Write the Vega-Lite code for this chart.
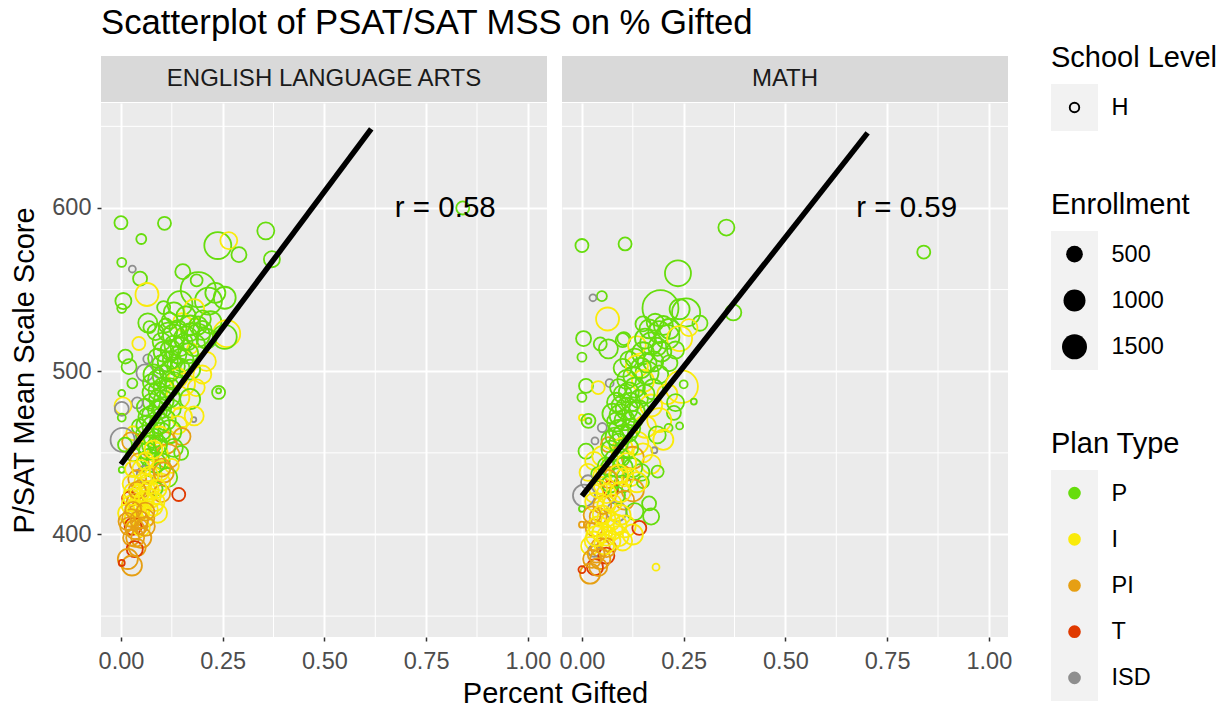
{"$schema":"https://vega.github.io/schema/vega-lite/v6.json","padding":{"left":10,"top":6,"right":0,"bottom":2},"background":"white","config":{"font":"Liberation Sans","view":{"stroke":null},"axis":{"labelFont":"Liberation Sans","titleFont":"Liberation Sans","titleFontWeight":"normal"}},
"datasets":{
"minorX":[{"v":0.125},{"v":0.375},{"v":0.625},{"v":0.875}],
"minorY":[{"v":350},{"v":450},{"v":550},{"v":650}],
"ela":[
{"x":0.0,"y":591,"e":290,"p":"P"},{"x":0.107,"y":590.6,"e":290,"p":"P"},{"x":0.05,"y":581,"e":155,"p":"P"},{"x":0.238,"y":577,"e":1800,"p":"P"},{"x":0.265,"y":580,"e":530,"p":"I"},{"x":0.29,"y":571.4,"e":400,"p":"P"},{"x":0.356,"y":586,"e":530,"p":"P"},{"x":0.371,"y":568.6,"e":460,"p":"P"},{"x":0.002,"y":566.7,"e":120,"p":"P"},{"x":0.028,"y":562.6,"e":55,"p":"ISD"},{"x":0.047,"y":556.7,"e":340,"p":"P"},{"x":0.152,"y":561,"e":400,"p":"P"},{"x":0.186,"y":555.7,"e":240,"p":"P"},{"x":0.84,"y":600,"e":290,"p":"P"},{"x":0.064,"y":547,"e":1160,"p":"I"},{"x":0.006,"y":543,"e":460,"p":"P"},{"x":0.002,"y":538.5,"e":120,"p":"P"},{"x":0.145,"y":541.4,"e":1500,"p":"P"},{"x":0.105,"y":539,"e":290,"p":"P"},{"x":0.19,"y":550,"e":3300,"p":"P"},{"x":0.232,"y":548,"e":800,"p":"P"},{"x":0.255,"y":545,"e":1000,"p":"P"},{"x":0.215,"y":543,"e":1800,"p":"P"},{"x":0.18,"y":538,"e":800,"p":"I"},{"x":0.066,"y":529.6,"e":700,"p":"P"},{"x":0.07,"y":527,"e":240,"p":"P"},{"x":0.11,"y":528,"e":340,"p":"P"},{"x":0.15,"y":530,"e":610,"p":"I"},{"x":0.2,"y":532,"e":530,"p":"P"},{"x":0.17,"y":528,"e":800,"p":"P"},{"x":0.22,"y":530,"e":1000,"p":"P"},{"x":0.26,"y":523,"e":1800,"p":"I"},{"x":0.255,"y":521,"e":1330,"p":"P"},{"x":0.13,"y":522,"e":1000,"p":"P"},{"x":0.085,"y":524,"e":460,"p":"P"},{"x":0.16,"y":520,"e":1330,"p":"P"},{"x":0.19,"y":522,"e":1160,"p":"P"},{"x":0.21,"y":520,"e":800,"p":"P"},{"x":0.1,"y":518,"e":610,"p":"P"},{"x":0.044,"y":517,"e":290,"p":"I"},{"x":0.145,"y":515,"e":700,"p":"P"},{"x":0.175,"y":514,"e":155,"p":"I"},{"x":0.18,"y":516,"e":1000,"p":"P"},{"x":0.122,"y":513,"e":800,"p":"P"},{"x":0.011,"y":509,"e":340,"p":"P"},{"x":0.066,"y":507.5,"e":120,"p":"ISD"},{"x":0.09,"y":508,"e":700,"p":"P"},{"x":0.15,"y":507,"e":1160,"p":"P"},{"x":0.115,"y":506,"e":800,"p":"P"},{"x":0.21,"y":506,"e":700,"p":"I"},{"x":0.02,"y":502.8,"e":400,"p":"P"},{"x":0.135,"y":503,"e":610,"p":"P"},{"x":0.17,"y":501,"e":800,"p":"P"},{"x":0.059,"y":499,"e":530,"p":"ISD"},{"x":0.093,"y":499,"e":155,"p":"ISD"},{"x":0.08,"y":498,"e":800,"p":"P"},{"x":0.105,"y":497,"e":1000,"p":"P"},{"x":0.14,"y":496,"e":700,"p":"I"},{"x":0.2,"y":498,"e":610,"p":"I"},{"x":0.075,"y":493,"e":530,"p":"P"},{"x":0.028,"y":492.6,"e":155,"p":"P"},{"x":0.155,"y":492,"e":1000,"p":"I"},{"x":0.12,"y":490,"e":700,"p":"P"},{"x":0.185,"y":490,"e":530,"p":"I"},{"x":0.09,"y":488,"e":610,"p":"P"},{"x":0.24,"y":487,"e":290,"p":"P"},{"x":0.24,"y":488,"e":10,"p":"P"},{"x":0.002,"y":486.5,"e":55,"p":"P"},{"x":0.14,"y":484,"e":1160,"p":"I"},{"x":0.17,"y":483,"e":800,"p":"P"},{"x":0.105,"y":482,"e":800,"p":"P"},{"x":0.075,"y":481,"e":530,"p":"P"},{"x":0.04,"y":480.6,"e":195,"p":"ISD"},{"x":0.005,"y":478.8,"e":530,"p":"I"},{"x":0.002,"y":477,"e":340,"p":"ISD"},{"x":0.125,"y":477,"e":610,"p":"P"},{"x":0.09,"y":476,"e":700,"p":"P"},{"x":0.18,"y":472.6,"e":700,"p":"I"},{"x":0.179,"y":470.4,"e":10,"p":"ISD"},{"x":0.15,"y":472,"e":800,"p":"I"},{"x":0.002,"y":471.6,"e":85,"p":"P"},{"x":0.065,"y":472,"e":610,"p":"P"},{"x":0.11,"y":470,"e":800,"p":"P"},{"x":0.14,"y":467,"e":610,"p":"I"},{"x":0.08,"y":466,"e":1000,"p":"P"},{"x":0.045,"y":466,"e":400,"p":"P"},{"x":0.12,"y":463,"e":1160,"p":"P"},{"x":0.03,"y":462,"e":340,"p":"I"},{"x":0.06,"y":461,"e":700,"p":"P"},{"x":0.095,"y":460,"e":800,"p":"I"},{"x":0.15,"y":460,"e":530,"p":"PI"},{"x":0.004,"y":457.9,"e":1330,"p":"ISD"},{"x":0.025,"y":457,"e":610,"p":"PI"},{"x":0.11,"y":456,"e":1000,"p":"PI"},{"x":0.075,"y":455,"e":700,"p":"P"},{"x":0.01,"y":455,"e":340,"p":"P"},{"x":0.13,"y":453,"e":610,"p":"P"},{"x":0.05,"y":452,"e":530,"p":"I"},{"x":0.09,"y":450,"e":800,"p":"I"},{"x":0.148,"y":450,"e":340,"p":"P"},{"x":0.03,"y":449,"e":340,"p":"P"},{"x":0.115,"y":448,"e":1330,"p":"PI"},{"x":0.07,"y":447,"e":610,"p":"P"},{"x":0.1,"y":445,"e":460,"p":"P"},{"x":0.045,"y":444,"e":700,"p":"PI"},{"x":0.002,"y":439.6,"e":30,"p":"P"},{"x":0.075,"y":441,"e":610,"p":"P"},{"x":0.125,"y":442,"e":340,"p":"I"},{"x":0.03,"y":440,"e":460,"p":"I"},{"x":0.095,"y":439,"e":800,"p":"I"},{"x":0.06,"y":437,"e":530,"p":"ISD"},{"x":0.115,"y":435,"e":700,"p":"P"},{"x":0.08,"y":436,"e":530,"p":"I"},{"x":0.04,"y":434,"e":610,"p":"PI"},{"x":0.1,"y":432,"e":530,"p":"I"},{"x":0.065,"y":431,"e":700,"p":"I"},{"x":0.025,"y":431,"e":530,"p":"I"},{"x":0.085,"y":428,"e":340,"p":"P"},{"x":0.05,"y":428,"e":610,"p":"PI"},{"x":0.142,"y":424.5,"e":290,"p":"T"},{"x":0.1,"y":425,"e":530,"p":"PI"},{"x":0.03,"y":426,"e":610,"p":"I"},{"x":0.02,"y":422,"e":340,"p":"T"},{"x":0.075,"y":422,"e":610,"p":"I"},{"x":0.06,"y":420,"e":460,"p":"I"},{"x":0.035,"y":420,"e":530,"p":"PI"},{"x":0.025,"y":418,"e":700,"p":"I"},{"x":0.05,"y":415,"e":530,"p":"I"},{"x":0.07,"y":415,"e":530,"p":"I"},{"x":0.09,"y":413,"e":700,"p":"I"},{"x":0.015,"y":413,"e":610,"p":"I"},{"x":0.04,"y":413,"e":610,"p":"PI"},{"x":0.03,"y":410,"e":530,"p":"I"},{"x":0.06,"y":410,"e":610,"p":"PI"},{"x":0.02,"y":405,"e":610,"p":"PI"},{"x":0.045,"y":405,"e":460,"p":"PI"},{"x":0.03,"y":405,"e":530,"p":"T"},{"x":0.035,"y":403,"e":700,"p":"PI"},{"x":0.05,"y":404,"e":530,"p":"I"},{"x":0.05,"y":398,"e":800,"p":"PI"},{"x":0.025,"y":398,"e":460,"p":"PI"},{"x":0.04,"y":392,"e":530,"p":"PI"},{"x":0.034,"y":391,"e":460,"p":"T"},{"x":0.017,"y":385,"e":800,"p":"PI"},{"x":0.027,"y":381,"e":800,"p":"PI"},{"x":0.002,"y":382.6,"e":30,"p":"T"},
{"x":0.13,"y":536,"e":800,"p":"P"},{"x":0.16,"y":534,"e":700,"p":"P"},{"x":0.12,"y":531,"e":460,"p":"P"},{"x":0.19,"y":528,"e":610,"p":"P"},{"x":0.14,"y":526,"e":530,"p":"P"},{"x":0.17,"y":524,"e":610,"p":"P"},{"x":0.115,"y":524,"e":700,"p":"P"},{"x":0.2,"y":525,"e":700,"p":"P"},{"x":0.155,"y":518,"e":530,"p":"P"},{"x":0.13,"y":516,"e":700,"p":"P"},{"x":0.105,"y":512,"e":800,"p":"P"},{"x":0.165,"y":511,"e":800,"p":"P"},{"x":0.14,"y":510,"e":530,"p":"P"},{"x":0.125,"y":507,"e":610,"p":"P"},{"x":0.1,"y":504,"e":700,"p":"P"},{"x":0.145,"y":502,"e":700,"p":"P"},{"x":0.12,"y":500,"e":800,"p":"P"},{"x":0.09,"y":495,"e":700,"p":"P"},{"x":0.13,"y":494,"e":610,"p":"P"},{"x":0.105,"y":490,"e":800,"p":"P"},{"x":0.075,"y":487,"e":610,"p":"P"},{"x":0.09,"y":483,"e":530,"p":"P"},{"x":0.12,"y":484,"e":800,"p":"P"},{"x":0.06,"y":478,"e":530,"p":"P"},{"x":0.1,"y":477,"e":700,"p":"P"},{"x":0.075,"y":473,"e":700,"p":"P"},{"x":0.095,"y":468,"e":800,"p":"P"},{"x":0.06,"y":467,"e":610,"p":"P"},{"x":0.1,"y":463,"e":610,"p":"P"},{"x":0.08,"y":459,"e":700,"p":"P"},{"x":0.06,"y":455,"e":610,"p":"P"},{"x":0.09,"y":455,"e":700,"p":"P"},{"x":0.065,"y":451,"e":530,"p":"P"},{"x":0.085,"y":444,"e":800,"p":"P"},{"x":0.1,"y":441,"e":610,"p":"PI"},{"x":0.05,"y":440,"e":610,"p":"I"},{"x":0.07,"y":436,"e":610,"p":"I"},{"x":0.045,"y":425,"e":610,"p":"I"},{"x":0.085,"y":420,"e":610,"p":"I"},{"x":0.065,"y":424,"e":530,"p":"I"},{"x":0.04,"y":418,"e":610,"p":"I"},{"x":0.025,"y":410,"e":610,"p":"PI"},{"x":0.035,"y":398,"e":610,"p":"PI"},
{"x":0.08,"y":452,"e":610,"p":"I"},{"x":0.06,"y":445,"e":530,"p":"I"},{"x":0.105,"y":438,"e":800,"p":"PI"},{"x":0.055,"y":432,"e":610,"p":"I"},{"x":0.09,"y":428,"e":610,"p":"I"},{"x":0.04,"y":427,"e":530,"p":"PI"},{"x":0.07,"y":427,"e":700,"p":"I"},{"x":0.025,"y":423,"e":460,"p":"I"},{"x":0.055,"y":421,"e":610,"p":"I"},{"x":0.08,"y":417,"e":610,"p":"I"},{"x":0.035,"y":416,"e":530,"p":"I"},{"x":0.06,"y":414,"e":610,"p":"PI"},{"x":0.03,"y":415,"e":460,"p":"PI"},{"x":0.045,"y":409,"e":610,"p":"PI"},{"x":0.015,"y":408,"e":530,"p":"PI"},{"x":0.06,"y":405,"e":700,"p":"PI"}
],
"math":[
{"x":0.355,"y":588,"e":460,"p":"P"},{"x":0.0,"y":577,"e":290,"p":"P"},{"x":0.106,"y":578,"e":290,"p":"P"},{"x":0.84,"y":573,"e":290,"p":"P"},{"x":0.236,"y":560,"e":1650,"p":"P"},{"x":0.049,"y":546,"e":155,"p":"P"},{"x":0.027,"y":545,"e":55,"p":"ISD"},{"x":0.193,"y":538.6,"e":3500,"p":"P"},{"x":0.24,"y":538,"e":800,"p":"P"},{"x":0.256,"y":536,"e":2000,"p":"P"},{"x":0.372,"y":536,"e":460,"p":"P"},{"x":0.063,"y":532,"e":1160,"p":"I"},{"x":0.15,"y":529,"e":400,"p":"P"},{"x":0.29,"y":529.4,"e":400,"p":"P"},{"x":0.263,"y":526.7,"e":530,"p":"I"},{"x":0.18,"y":530,"e":530,"p":"P"},{"x":0.2,"y":528,"e":700,"p":"P"},{"x":0.215,"y":526,"e":800,"p":"P"},{"x":0.19,"y":524,"e":1000,"p":"P"},{"x":0.21,"y":521,"e":1330,"p":"P"},{"x":0.24,"y":520,"e":1500,"p":"I"},{"x":0.103,"y":520,"e":290,"p":"P"},{"x":0.004,"y":520,"e":400,"p":"P"},{"x":0.1,"y":519,"e":340,"p":"P"},{"x":0.045,"y":516.7,"e":290,"p":"P"},{"x":0.065,"y":513.7,"e":700,"p":"P"},{"x":0.17,"y":517,"e":1000,"p":"P"},{"x":0.135,"y":516,"e":610,"p":"I"},{"x":0.23,"y":513,"e":530,"p":"P"},{"x":0.195,"y":512,"e":800,"p":"P"},{"x":0.15,"y":511,"e":1000,"p":"P"},{"x":0.0,"y":508.6,"e":120,"p":"P"},{"x":0.115,"y":507,"e":530,"p":"P"},{"x":0.175,"y":506,"e":800,"p":"P"},{"x":0.215,"y":505,"e":460,"p":"P"},{"x":0.135,"y":503,"e":1000,"p":"I"},{"x":0.1,"y":502,"e":610,"p":"P"},{"x":0.16,"y":499,"e":1160,"p":"P"},{"x":0.19,"y":498,"e":610,"p":"P"},{"x":0.125,"y":497,"e":700,"p":"P"},{"x":0.15,"y":494,"e":1000,"p":"I"},{"x":0.068,"y":492.7,"e":85,"p":"ISD"},{"x":0.25,"y":492,"e":85,"p":"P"},{"x":0.245,"y":490.6,"e":2800,"p":"I"},{"x":0.01,"y":491,"e":340,"p":"P"},{"x":0.04,"y":490,"e":290,"p":"I"},{"x":0.09,"y":490,"e":530,"p":"P"},{"x":0.175,"y":489,"e":800,"p":"P"},{"x":0.115,"y":487,"e":800,"p":"P"},{"x":0.21,"y":486,"e":800,"p":"I"},{"x":0.0,"y":484,"e":120,"p":"P"},{"x":0.14,"y":483,"e":610,"p":"P"},{"x":0.085,"y":481,"e":700,"p":"P"},{"x":0.275,"y":481.4,"e":30,"p":"P"},{"x":0.23,"y":480.8,"e":530,"p":"P"},{"x":0.17,"y":479,"e":1000,"p":"I"},{"x":0.11,"y":477,"e":1000,"p":"P"},{"x":0.14,"y":476,"e":800,"p":"P"},{"x":0.226,"y":474.5,"e":340,"p":"P"},{"x":0.075,"y":474,"e":800,"p":"P"},{"x":0.095,"y":473,"e":1000,"p":"P"},{"x":0.0,"y":471.6,"e":30,"p":"I"},{"x":0.19,"y":470,"e":1330,"p":"I"},{"x":0.125,"y":470,"e":700,"p":"P"},{"x":0.016,"y":469.6,"e":340,"p":"P"},{"x":0.016,"y":469.6,"e":30,"p":"P"},{"x":0.24,"y":466.5,"e":55,"p":"P"},{"x":0.155,"y":466,"e":1000,"p":"I"},{"x":0.05,"y":465.5,"e":120,"p":"ISD"},{"x":0.213,"y":465.3,"e":85,"p":"P"},{"x":0.09,"y":464,"e":800,"p":"P"},{"x":0.115,"y":462,"e":530,"p":"P"},{"x":0.185,"y":461,"e":530,"p":"P"},{"x":0.2,"y":458,"e":800,"p":"I"},{"x":0.032,"y":457.3,"e":55,"p":"ISD"},{"x":0.07,"y":458,"e":610,"p":"P"},{"x":0.135,"y":456,"e":1160,"p":"I"},{"x":0.065,"y":455,"e":400,"p":"PI"},{"x":0.1,"y":453,"e":800,"p":"I"},{"x":0.178,"y":451.6,"e":30,"p":"ISD"},{"x":0.01,"y":451,"e":400,"p":"P"},{"x":0.15,"y":450,"e":700,"p":"I"},{"x":0.05,"y":448,"e":800,"p":"I"},{"x":0.125,"y":447,"e":1000,"p":"PI"},{"x":0.08,"y":446,"e":700,"p":"P"},{"x":0.03,"y":445,"e":610,"p":"I"},{"x":0.17,"y":443,"e":700,"p":"I"},{"x":0.06,"y":442,"e":530,"p":"P"},{"x":0.1,"y":441,"e":800,"p":"P"},{"x":0.186,"y":438.5,"e":240,"p":"P"},{"x":0.145,"y":438,"e":530,"p":"P"},{"x":0.015,"y":438,"e":530,"p":"I"},{"x":0.04,"y":437,"e":340,"p":"P"},{"x":0.08,"y":436,"e":700,"p":"PI"},{"x":0.12,"y":435,"e":610,"p":"I"},{"x":0.015,"y":432,"e":340,"p":"ISD"},{"x":0.1,"y":431,"e":530,"p":"P"},{"x":0.15,"y":432,"e":240,"p":"P"},{"x":0.05,"y":430,"e":530,"p":"I"},{"x":0.07,"y":428,"e":400,"p":"T"},{"x":0.125,"y":427,"e":1000,"p":"PI"},{"x":0.03,"y":425,"e":610,"p":"I"},{"x":0.005,"y":423.8,"e":1000,"p":"ISD"},{"x":0.085,"y":424,"e":530,"p":"P"},{"x":0.105,"y":421,"e":700,"p":"PI"},{"x":0.165,"y":419,"e":340,"p":"P"},{"x":0.06,"y":418,"e":610,"p":"I"},{"x":0.0,"y":415.7,"e":30,"p":"P"},{"x":0.085,"y":414,"e":800,"p":"ISD"},{"x":0.13,"y":414,"e":530,"p":"P"},{"x":0.17,"y":411,"e":460,"p":"P"},{"x":0.04,"y":411,"e":530,"p":"PI"},{"x":0.07,"y":408,"e":700,"p":"I"},{"x":0.0,"y":406,"e":30,"p":"PI"},{"x":0.012,"y":406,"e":30,"p":"PI"},{"x":0.105,"y":405,"e":1000,"p":"I"},{"x":0.141,"y":404,"e":340,"p":"T"},{"x":0.03,"y":404,"e":530,"p":"PI"},{"x":0.05,"y":401,"e":800,"p":"I"},{"x":0.09,"y":399,"e":800,"p":"I"},{"x":0.125,"y":400,"e":800,"p":"I"},{"x":0.03,"y":396,"e":700,"p":"I"},{"x":0.07,"y":396,"e":800,"p":"I"},{"x":0.02,"y":393,"e":610,"p":"I"},{"x":0.045,"y":392,"e":700,"p":"PI"},{"x":0.03,"y":390,"e":240,"p":"ISD"},{"x":0.06,"y":387,"e":460,"p":"T"},{"x":0.045,"y":385,"e":800,"p":"PI"},{"x":0.182,"y":380,"e":55,"p":"I"},{"x":0.032,"y":380,"e":460,"p":"T"},{"x":0.02,"y":376,"e":800,"p":"PI"},{"x":0.0,"y":378.5,"e":55,"p":"T"},
{"x":0.165,"y":526,"e":700,"p":"P"},{"x":0.185,"y":515,"e":610,"p":"P"},{"x":0.155,"y":520,"e":800,"p":"P"},{"x":0.13,"y":508,"e":700,"p":"P"},{"x":0.16,"y":505,"e":700,"p":"P"},{"x":0.145,"y":502,"e":800,"p":"P"},{"x":0.11,"y":495,"e":700,"p":"P"},{"x":0.13,"y":490,"e":800,"p":"P"},{"x":0.1,"y":486,"e":610,"p":"P"},{"x":0.155,"y":486,"e":700,"p":"P"},{"x":0.12,"y":481,"e":700,"p":"P"},{"x":0.095,"y":479,"e":610,"p":"P"},{"x":0.13,"y":475,"e":800,"p":"P"},{"x":0.105,"y":470,"e":800,"p":"P"},{"x":0.085,"y":469,"e":700,"p":"P"},{"x":0.12,"y":465,"e":700,"p":"P"},{"x":0.1,"y":461,"e":800,"p":"P"},{"x":0.08,"y":460,"e":610,"p":"P"},{"x":0.09,"y":456,"e":700,"p":"P"},{"x":0.115,"y":453,"e":700,"p":"P"},{"x":0.07,"y":452,"e":610,"p":"P"},{"x":0.095,"y":447,"e":610,"p":"P"},{"x":0.07,"y":441,"e":700,"p":"P"},{"x":0.125,"y":441,"e":700,"p":"P"},{"x":0.105,"y":435,"e":610,"p":"I"},{"x":0.05,"y":436,"e":610,"p":"I"},{"x":0.07,"y":431,"e":530,"p":"P"},{"x":0.03,"y":420,"e":610,"p":"I"},{"x":0.05,"y":418,"e":610,"p":"PI"},{"x":0.075,"y":419,"e":610,"p":"I"},{"x":0.095,"y":412,"e":800,"p":"I"},{"x":0.06,"y":410,"e":610,"p":"I"},{"x":0.04,"y":405,"e":800,"p":"I"},{"x":0.075,"y":403,"e":800,"p":"I"},{"x":0.055,"y":394,"e":800,"p":"I"},{"x":0.035,"y":388,"e":530,"p":"PI"},{"x":0.06,"y":392,"e":700,"p":"PI"},
{"x":0.11,"y":444,"e":700,"p":"I"},{"x":0.09,"y":437,"e":700,"p":"I"},{"x":0.065,"y":434,"e":610,"p":"PI"},{"x":0.135,"y":432,"e":800,"p":"I"},{"x":0.04,"y":428,"e":610,"p":"I"},{"x":0.095,"y":426,"e":800,"p":"I"},{"x":0.06,"y":425,"e":700,"p":"I"},{"x":0.025,"y":412,"e":530,"p":"PI"},{"x":0.05,"y":412,"e":700,"p":"I"},{"x":0.085,"y":406,"e":800,"p":"I"},{"x":0.035,"y":399,"e":800,"p":"I"},{"x":0.06,"y":399,"e":700,"p":"I"},{"x":0.1,"y":396,"e":700,"p":"I"},{"x":0.025,"y":385,"e":610,"p":"PI"},{"x":0.04,"y":380,"e":610,"p":"PI"}
]
},
"hconcat":[
{"vconcat":[
{"hconcat":[
{"width":446,"height":46,"view":{"fill":"#d9d9d9","stroke":null},"title":{"text":"Scatterplot of PSAT/SAT MSS on % Gifted","anchor":"start","frame":"group","fontSize":34.7,"fontWeight":"normal","color":"black","font":"Liberation Sans","offset":14},"data":{"values":[{"s":"ENGLISH LANGUAGE ARTS"}]},"mark":{"type":"text","fontSize":24,"color":"#1a1a1a","font":"Liberation Sans"},"encoding":{"text":{"field":"s"}}},
{"width":446,"height":46,"view":{"fill":"#d9d9d9","stroke":null},"data":{"values":[{"s":"MATH"}]},"mark":{"type":"text","fontSize":24,"color":"#1a1a1a","font":"Liberation Sans"},"encoding":{"text":{"field":"s"}}}
],"spacing":15,"bounds":"flush"},
{"hconcat":[
{"width":446,"height":534,"view":{"fill":"#ebebeb","stroke":null},"layer":[
{"data":{"name":"minorX"},"mark":{"type":"rule","color":"white","strokeWidth":1},"encoding":{"x":{"field":"v","type":"quantitative","scale":{"domain":[-0.049,1.047],"nice":false}}}},
{"data":{"name":"minorY"},"mark":{"type":"rule","color":"white","strokeWidth":1},"encoding":{"y":{"field":"v","type":"quantitative","scale":{"domain":[337.2,664.3],"nice":false,"zero":false}}}},
{"data":{"name":"ela"},"mark":{"type":"point","filled":false,"strokeWidth":1.8,"opacity":1},"encoding":{
"x":{"field":"x","type":"quantitative","scale":{"domain":[-0.049,1.047],"nice":false},"axis":{"values":[0,0.25,0.5,0.75,1],"format":".2f","labelFontSize":23.5,"labelColor":"#4d4d4d","tickColor":"#333333","tickSize":4,"tickWidth":1.5,"domain":false,"grid":true,"gridColor":"white","gridWidth":2,"labelPadding":8,"labelFlush":false,"labelOverlap":false,"title":"Percent Gifted","titleFontSize":29,"titleColor":"black","titleX":454,"titleY":65,"titleAlign":"center","titleBaseline":"alphabetic"}},
"y":{"field":"y","type":"quantitative","scale":{"domain":[337.2,664.3],"nice":false,"zero":false},"axis":{"values":[400,500,600],"labelFontSize":23.5,"labelColor":"#4d4d4d","tickColor":"#333333","tickSize":4,"tickWidth":1.5,"domain":false,"grid":true,"gridColor":"white","gridWidth":2,"labelPadding":6,"title":"P/SAT Mean Scale Score","titleFontSize":29,"titleColor":"black","titlePadding":12}},
"size":{"field":"e","type":"quantitative","legend":null,"scale":{"domain":[0,500,1000,1500,3500],"range":[20,278,484,625,1296]}},
"color":{"field":"p","type":"nominal","legend":null,"scale":{"domain":["P","I","PI","T","ISD"],"range":["#66DD0C","#FAEB0A","#E69F13","#E03A00","#8E8E8E"]}}}},
{"data":{"values":[{"x":0,"y":443},{"x":0.615,"y":648.5}]},"mark":{"type":"line","color":"black","strokeWidth":5.5,"strokeCap":"butt"},"encoding":{"x":{"field":"x","type":"quantitative","scale":{"domain":[-0.049,1.047],"nice":false}},"y":{"field":"y","type":"quantitative","scale":{"domain":[337.2,664.3],"nice":false,"zero":false}}}},
{"data":{"values":[{"x":0.797,"y":600,"t":"r = 0.58"}]},"mark":{"type":"text","fontSize":29.5,"color":"black","font":"Liberation Sans"},"encoding":{"x":{"field":"x","type":"quantitative","scale":{"domain":[-0.049,1.047],"nice":false}},"y":{"field":"y","type":"quantitative","scale":{"domain":[337.2,664.3],"nice":false,"zero":false}},"text":{"field":"t"}}}
]},
{"width":446,"height":534,"view":{"fill":"#ebebeb","stroke":null},"layer":[
{"data":{"name":"minorX"},"mark":{"type":"rule","color":"white","strokeWidth":1},"encoding":{"x":{"field":"v","type":"quantitative","scale":{"domain":[-0.049,1.047],"nice":false}}}},
{"data":{"name":"minorY"},"mark":{"type":"rule","color":"white","strokeWidth":1},"encoding":{"y":{"field":"v","type":"quantitative","scale":{"domain":[337.2,664.3],"nice":false,"zero":false}}}},
{"data":{"name":"math"},"mark":{"type":"point","filled":false,"strokeWidth":1.8,"opacity":1},"encoding":{
"x":{"field":"x","type":"quantitative","scale":{"domain":[-0.049,1.047],"nice":false},"axis":{"values":[0,0.25,0.5,0.75,1],"format":".2f","labelFontSize":23.5,"labelColor":"#4d4d4d","tickColor":"#333333","tickSize":4,"tickWidth":1.5,"domain":false,"grid":true,"gridColor":"white","gridWidth":2,"labelPadding":8,"labelFlush":false,"labelOverlap":false,"title":null}},
"y":{"field":"y","type":"quantitative","scale":{"domain":[337.2,664.3],"nice":false,"zero":false},"axis":{"values":[400,500,600],"labels":false,"ticks":false,"domain":false,"grid":true,"gridColor":"white","gridWidth":2,"title":null}},
"size":{"field":"e","type":"quantitative","legend":null,"scale":{"domain":[0,500,1000,1500,3500],"range":[20,278,484,625,1296]}},
"color":{"field":"p","type":"nominal","legend":null,"scale":{"domain":["P","I","PI","T","ISD"],"range":["#66DD0C","#FAEB0A","#E69F13","#E03A00","#8E8E8E"]}}}},
{"data":{"values":[{"x":0,"y":423.6},{"x":0.702,"y":646}]},"mark":{"type":"line","color":"black","strokeWidth":5.5,"strokeCap":"butt"},"encoding":{"x":{"field":"x","type":"quantitative","scale":{"domain":[-0.049,1.047],"nice":false}},"y":{"field":"y","type":"quantitative","scale":{"domain":[337.2,664.3],"nice":false,"zero":false}}}},
{"data":{"values":[{"x":0.798,"y":600,"t":"r = 0.59"}]},"mark":{"type":"text","fontSize":29.5,"color":"black","font":"Liberation Sans"},"encoding":{"x":{"field":"x","type":"quantitative","scale":{"domain":[-0.049,1.047],"nice":false}},"y":{"field":"y","type":"quantitative","scale":{"domain":[337.2,664.3],"nice":false,"zero":false}},"text":{"field":"t"}}}
]}
],"spacing":15,"bounds":"flush"}
],"spacing":0},
{"vconcat":[
{"width":47,"height":28,"data":{"values":[{"l":"spacer"}]},"mark":{"type":"point","opacity":0},"encoding":{}},
{"vconcat":[
{"width":47,"height":47,"view":{"fill":"#f2f2f2","stroke":null},"title":{"text":"School Level","anchor":"start","frame":"group","fontSize":29,"fontWeight":"normal","color":"black","font":"Liberation Sans","offset":11},"data":{"values":[{"l":"H"}]},"mark":{"type":"point","filled":false,"color":"black","size":90,"strokeWidth":1.9,"opacity":1},"encoding":{"y":{"field":"l","type":"nominal","title":null,"axis":{"orient":"right","domain":false,"ticks":false,"grid":false,"labelFontSize":23.5,"labelColor":"black","labelPadding":13}}}},
{"width":47,"height":139,"view":{"fill":"#f2f2f2","stroke":null},"title":{"text":"Enrollment","anchor":"start","frame":"group","fontSize":29,"fontWeight":"normal","color":"black","font":"Liberation Sans","offset":11},"data":{"values":[{"l":"500","e":500},{"l":"1000","e":1000},{"l":"1500","e":1500}]},"mark":{"type":"point","filled":true,"color":"black","opacity":1},"encoding":{"y":{"field":"l","type":"nominal","sort":["500","1000","1500"],"title":null,"axis":{"orient":"right","domain":false,"ticks":false,"grid":false,"labelFontSize":23.5,"labelColor":"black","labelPadding":13}},"size":{"field":"e","type":"quantitative","legend":null,"scale":{"domain":[0,500,1000,1500,3500],"range":[20,278,484,625,1296]}}}},
{"width":47,"height":231,"view":{"fill":"#f2f2f2","stroke":null},"title":{"text":"Plan Type","anchor":"start","frame":"group","fontSize":29,"fontWeight":"normal","color":"black","font":"Liberation Sans","offset":11},"data":{"values":[{"l":"P"},{"l":"I"},{"l":"PI"},{"l":"T"},{"l":"ISD"}]},"mark":{"type":"point","filled":true,"size":160,"opacity":1},"encoding":{"y":{"field":"l","type":"nominal","sort":["P","I","PI","T","ISD"],"title":null,"axis":{"orient":"right","domain":false,"ticks":false,"grid":false,"labelFontSize":23.5,"labelColor":"black","labelPadding":13}},"color":{"field":"l","type":"nominal","legend":null,"scale":{"domain":["P","I","PI","T","ISD"],"range":["#66DD0C","#FAEB0A","#E69F13","#E03A00","#8E8E8E"]}}}}
],"spacing":100,"bounds":"flush"}
],"spacing":0,"bounds":"flush"}
],"spacing":39,"resolve":{"scale":{"color":"independent","size":"independent","x":"independent","y":"independent"}}}
